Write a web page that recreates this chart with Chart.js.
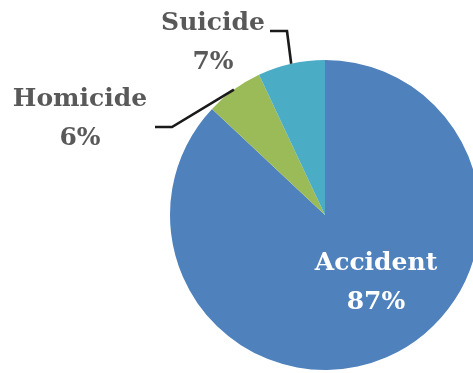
<!DOCTYPE html>
<html>
<head>
<meta charset="utf-8">
<script src="https://cdn.jsdelivr.net/npm/chart.js@4"></script>
<style>
  html, body { margin: 0; padding: 0; background: #fff; overflow: hidden; }
  #wrap { width: 480px; height: 373px; }
</style>
</head>
<body>
<div id="wrap"><canvas id="chart-pie" width="480" height="373"></canvas></div>
<script>
var labels = ["Accident", "Homicide", "Suicide"];
var shares = [87, 6, 7];
var colors = ["#4f81bd", "#9bbb59", "#4bacc6"];

// label text placement (centre of the two-line block) and leader elbow, per slice
var labelPos = [
  { x: 376, y: 282, color: "#ffffff", leader: null },
  { x: 80, y: 118, color: "#595959", leader: { x0: 155, x1: 172, y: 127 } },
  { x: 213, y: 42, color: "#595959", leader: { x0: 270, x1: 287, y: 31 } }
];

var sliceLabels = {
  id: "sliceLabels",
  afterDatasetsDraw: function (chart) {
    var ctx = chart.ctx;
    var meta = chart.getDatasetMeta(0);
    ctx.save();
    meta.data.forEach(function (arc, i) {
      var p = labelPos[i];
      if (p.leader) {
        var mid = (arc.startAngle + arc.endAngle) / 2;
        var ex = arc.x + Math.cos(mid) * arc.outerRadius;
        var ey = arc.y + Math.sin(mid) * arc.outerRadius;
        ctx.strokeStyle = "#1a1a1a";
        ctx.lineWidth = 2.6;
        ctx.beginPath();
        ctx.moveTo(p.leader.x0, p.leader.y);
        ctx.lineTo(p.leader.x1, p.leader.y);
        ctx.lineTo(ex, ey);
        ctx.stroke();
      }
      ctx.fillStyle = p.color;
      ctx.font = "bold 25px 'DejaVu Serif'";
      ctx.textAlign = "center";
      ctx.textBaseline = "middle";
      ctx.fillText(labels[i], p.x, p.y - 19);
      ctx.fillText(shares[i] + "%", p.x, p.y + 20);
    });
    ctx.restore();
  }
};

new Chart(document.getElementById("chart-pie").getContext("2d"), {
  type: "pie",
  data: {
    labels: labels,
    datasets: [{
      data: shares,
      backgroundColor: colors,
      borderWidth: 0
    }]
  },
  options: {
    responsive: false,
    animation: false,
    layout: { padding: { left: 170, top: 60, right: 0, bottom: 3 } },
    plugins: {
      legend: { display: false },
      tooltip: { enabled: false }
    }
  },
  plugins: [sliceLabels]
});
</script>
</body>
</html>
